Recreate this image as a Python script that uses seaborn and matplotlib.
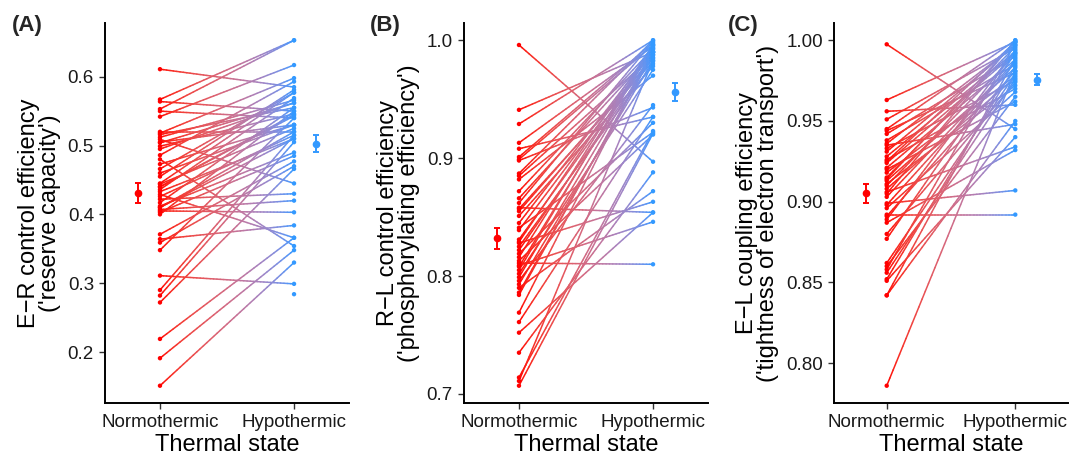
import numpy as np
import pandas as pd
import matplotlib
matplotlib.use("Agg")
import matplotlib.pyplot as plt
import seaborn as sns
from matplotlib.collections import LineCollection
from matplotlib.colors import to_rgb

# panel A: E-R control efficiency ('reserve capacity')
er_normo = [0.611, 0.567, 0.564, 0.553, 0.550, 0.542, 0.518, 0.516, 0.512, 0.509,
            0.504, 0.499, 0.486, 0.473, 0.466, 0.455, 0.444, 0.440, 0.436, 0.433,
            0.429, 0.426, 0.422, 0.417, 0.412, 0.407, 0.403, 0.405, 0.410, 0.400,
            0.371, 0.364, 0.359, 0.348, 0.311, 0.290, 0.282, 0.272, 0.219, 0.191,
            0.151, 0.505, 0.495, 0.480, 0.520, np.nan, 0.445, 0.460, 0.440, 0.410]
er_hypo = [0.585, 0.653, 0.550, 0.653, 0.540, 0.617, 0.598, 0.555, 0.566, 0.445,
           0.562, 0.546, 0.593, 0.530, 0.577, 0.581, 0.525, 0.543, 0.569, 0.510,
           0.366, 0.515, 0.430, 0.555, 0.490, 0.420, 0.485, 0.403, 0.510, 0.550,
           0.477, 0.384, 0.470, 0.540, 0.299, 0.515, 0.505, 0.466, 0.366, 0.348,
           0.330, 0.530, 0.562, 0.354, 0.520, 0.284, 0.577, 0.530, 0.545, 0.520]

# panel B: R-L control efficiency ('phosphorylating efficiency')
rl_normo = [0.996, 0.941, 0.929, 0.913, 0.908, 0.901, 0.899, 0.898, 0.887, 0.885,
            0.882, 0.872, 0.866, 0.862, 0.858, 0.857, 0.855, 0.851, 0.845, 0.841,
            0.839, 0.831, 0.829, 0.828, 0.825, 0.822, 0.819, 0.816, 0.813, 0.811,
            0.809, 0.808, 0.805, 0.802, 0.799, 0.796, 0.793, 0.790, 0.786, 0.784,
            0.769, 0.761, 0.752, 0.735, 0.714, 0.711, 0.707]
rl_hypo = [0.897, 0.990, 1.000, 0.995, 0.935, 0.998, 0.996, 0.943, 1.000, 0.987,
           0.970, 0.993, 0.990, 0.999, 0.854, 0.982, 0.985, 0.978, 0.992, 0.922,
           0.990, 0.988, 0.996, 0.863, 0.980, 0.985, 0.930, 0.996, 0.920, 0.810,
           0.846, 0.994, 0.997, 0.975, 0.990, 0.945, 0.983, 0.872, 0.988, 0.990,
           0.993, 0.935, 0.854, 0.888, 0.923, 0.983, 0.921]

# panel C: E-L coupling efficiency ('tightness of electron transport')
el_normo = [0.9975, 0.963, 0.956, 0.951, 0.945, 0.944, 0.942, 0.938, 0.936, 0.935,
            0.933, 0.928, 0.926, 0.925, 0.921, 0.920, 0.918, 0.915, 0.913, 0.911,
            0.910, 0.908, 0.906, 0.905, 0.899, 0.898, 0.896, 0.892, 0.891, 0.889,
            0.887, 0.880, 0.877, 0.862, 0.860, 0.858, 0.856, 0.852, 0.851, 0.842,
            0.842, 0.786, 0.931, 0.924, 0.914, 0.903]
el_hypo = [0.945, 0.999, 0.960, 0.995, 1.000, 0.980, 0.990, 0.985, 0.997, 0.948,
           0.975, 0.993, 0.970, 0.999, 0.988, 0.962, 0.978, 0.996, 0.983, 0.972,
           0.991, 0.977, 0.934, 1.000, 0.907, 0.986, 0.968, 0.892, 0.981, 0.994,
           0.932, 0.974, 0.992, 0.979, 0.965, 0.998, 0.976, 0.984, 0.940, 0.989,
           0.950, 0.981, 0.997, 0.992, 0.999, 0.987]

states = ["Normothermic", "Hypothermic"]
red = "#ff0000"
blue = "#3399ff"

panels = [
    ("(A)", er_normo, er_hypo, "E\u2212R control efficiency\n('reserve capacity')",
     [0.2, 0.3, 0.4, 0.5, 0.6], "{:.1f}"),
    ("(B)", rl_normo, rl_hypo, "R\u2212L control efficiency\n('phosphorylating efficiency')",
     [0.7, 0.8, 0.9, 1.0], "{:.1f}"),
    ("(C)", el_normo, el_hypo, "E\u2212L coupling efficiency\n('tightness of electron transport')",
     [0.80, 0.85, 0.90, 0.95, 1.00], "{:.2f}"),
]

# axes boxes in pixels: left, right
boxes = [(105, 349), (464, 708), (834, 1068)]
label_x = [12, 370, 728]

sns.set_theme(style="ticks")
plt.rcParams["font.family"] = ["Liberation Sans", "DejaVu Sans"]

W, H = 1069, 458
fig = plt.figure(figsize=(W / 100, H / 100), dpi=100)


def long_form(normo, hypo):
    n = len(normo)
    df = pd.DataFrame({
        "subject": list(range(n)) * 2,
        "state": [states[0]] * n + [states[1]] * n,
        "value": list(normo) + list(hypo),
    })
    df["x"] = df["state"].map({states[0]: 1, states[1]: 2})
    return df


# colour blending in Lab space (closer to the reference gradient)
M = np.array([[0.4124, 0.3576, 0.1805],
              [0.2126, 0.7152, 0.0722],
              [0.0193, 0.1192, 0.9505]])
WP = np.array([0.95047, 1.0, 1.08883])


def rgb2lab(c):
    c = np.asarray(c)
    lin = np.where(c <= 0.04045, c / 12.92, ((c + 0.055) / 1.055) ** 2.4)
    xyz = M @ lin / WP
    f = np.where(xyz > 0.008856, np.cbrt(xyz), 7.787 * xyz + 16 / 116)
    return np.array([116 * f[1] - 16, 500 * (f[0] - f[1]), 200 * (f[1] - f[2])])


def lab2rgb(lab):
    fy = (lab[0] + 16) / 116
    fx = fy + lab[1] / 500
    fz = fy - lab[2] / 200
    f = np.array([fx, fy, fz])
    xyz = np.where(f ** 3 > 0.008856, f ** 3, (f - 16 / 116) / 7.787) * WP
    lin = np.linalg.solve(M, xyz)
    lin = np.clip(lin, 0, 1)
    c = np.where(lin <= 0.0031308, 12.92 * lin, 1.055 * lin ** (1 / 2.4) - 0.055)
    return np.clip(c, 0, 1)


lab0 = rgb2lab(to_rgb(red))
lab1 = rgb2lab(to_rgb(blue))
steps = 40
t = np.linspace(0, 1, steps + 1)
grad = [lab2rgb(lab0 * (1 - m) + lab1 * m) for m in (t[:-1] + t[1:]) / 2]

for (tag, normo, hypo, ylab, yticks, fmt), (l, r), lx in zip(panels, boxes, label_x):
    ax = fig.add_axes([l / W, (H - 403) / H, (r - l) / W, (403 - 23) / H])
    df = long_form(normo, hypo)

    # gradient paired lines
    segs, cols = [], []
    for a, b in zip(normo, hypo):
        if np.isnan(a) or np.isnan(b):
            continue
        xs = 1 + t
        ys = a + (b - a) * t
        for i in range(steps):
            segs.append([(xs[i], ys[i]), (xs[i + 1], ys[i + 1])])
            cols.append(grad[i])
    ax.add_collection(LineCollection(segs, colors=cols, linewidths=1.1,
                                     capstyle="round", zorder=2))

    sns.scatterplot(data=df.dropna(), x="x", y="value", hue="state",
                    palette={states[0]: red, states[1]: blue}, s=10,
                    linewidth=0, legend=False, ax=ax, zorder=3)

    # mean +/- SE offset beside each group
    for k, (vals, col) in enumerate([(normo, red), (hypo, blue)]):
        v = np.array(vals, dtype=float)
        v = v[~np.isnan(v)]
        mean = v.mean()
        se = v.std(ddof=1) / np.sqrt(len(v))
        xm = 1 - 0.165 if k == 0 else 2 + 0.165
        ax.errorbar(xm, mean, yerr=se, fmt="o", color=col, markersize=4.5,
                    elinewidth=1.4, capsize=2.5, capthick=1.4, zorder=4)

    lo = min(np.nanmin(normo), np.nanmin(hypo))
    hi = max(np.nanmax(normo), np.nanmax(hypo))
    pad = (hi - lo) * 0.05
    ax.set_ylim(lo - pad, hi + pad)
    ax.set_xlim(0.59, 2.41)
    ax.set_xticks([1, 2])
    ax.set_xticklabels(states)
    ax.set_yticks(yticks)
    ax.set_yticklabels([fmt.format(v) for v in yticks])
    ax.tick_params(axis="both", labelsize=13.5, labelcolor="#1a1a1a", color="#333333",
                   length=4, width=1.0, direction="out", pad=4)
    ax.set_xlabel("Thermal state", fontsize=17, color="black", labelpad=2)
    ax.set_ylabel(ylab, fontsize=17, color="black", labelpad=5, linespacing=0.95)
    for sp in ["left", "bottom"]:
        ax.spines[sp].set_linewidth(1.4)
        ax.spines[sp].set_color("black")
    sns.despine(ax=ax)

    fig.text(lx / W, 1 - 25 / H, tag, fontsize=16, fontweight="bold",
             ha="left", va="center")

fig.savefig("out.png", dpi=100)
